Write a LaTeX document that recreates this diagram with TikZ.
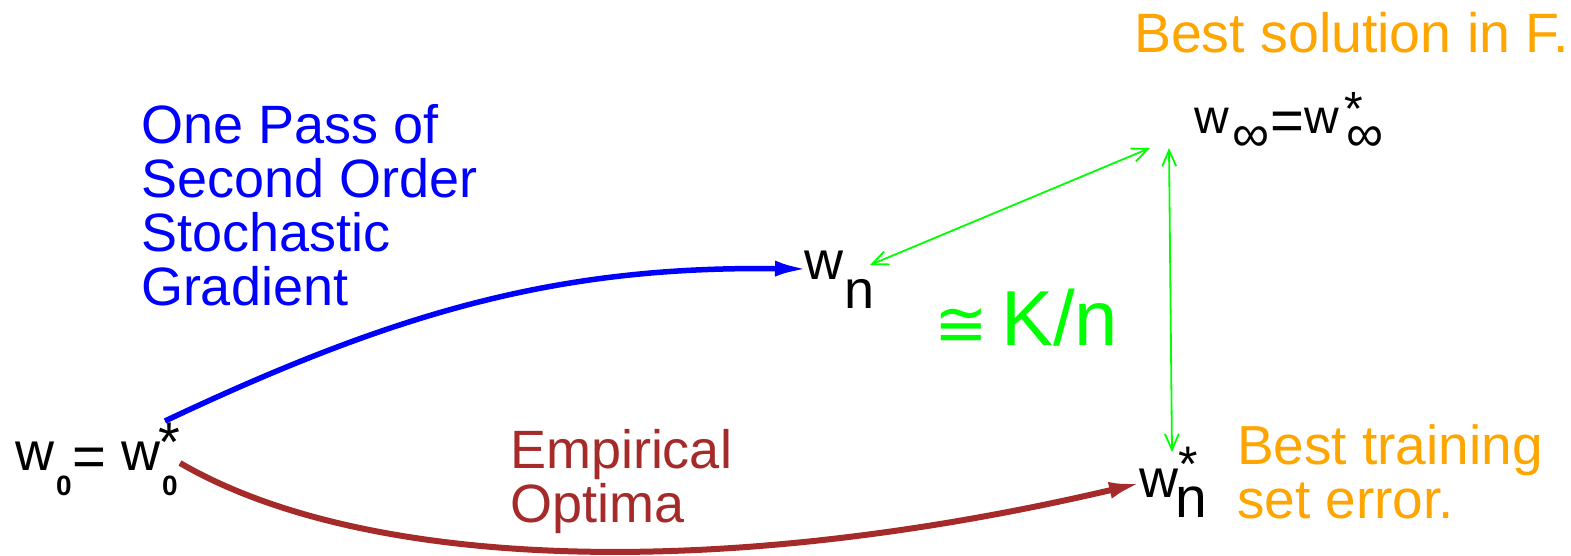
\documentclass[tikz,border=0pt]{standalone}
\usepackage{fontspec}
\setmainfont{Liberation Sans}
\newfontfamily\dv{DejaVu Sans}
\usetikzlibrary{arrows.meta}
\definecolor{cblue}{HTML}{0000FF}
\definecolor{cred}{HTML}{A52A2A}
\definecolor{corange}{HTML}{FFA500}
\definecolor{cgreen}{HTML}{00FF00}
\newcommand{\fs}[1]{\fontsize{#1}{#1}\selectfont}
\begin{document}
\begin{tikzpicture}[x=1pt,y=-1pt,
  lbl/.style={anchor=base west,inner sep=0pt,outer sep=0pt},
  garrow/.style={draw=cgreen,line width=1.8pt,{Straight Barb[length=16pt,width=14pt,line width=1.8pt]}-{Straight Barb[length=16pt,width=14pt,line width=1.8pt]}}]
\useasboundingbox (0,0) rectangle (1571,555);
% texts
\node[lbl,text=corange,font=\fs{55.5}] (tbest) at (1134,52) {Best solution in F.};
\node[lbl,text=cblue,font=\fs{54}] (t1) at (141,143) {One Pass of};
\node[lbl,text=cblue,font=\fs{54}] (t2) at (141,197) {Second Order};
\node[lbl,text=cblue,font=\fs{54}] (t3) at (141,251) {Stochastic};
\node[lbl,text=cblue,font=\fs{54}] (t4) at (141,305) {Gradient};
\node[lbl,text=cred,font=\fs{54}] (e1) at (510,468) {Empirical};
\node[lbl,text=cred,font=\fs{54}] (e2) at (510,522) {Optima};
\node[lbl,text=corange,font=\fs{55}] (b1) at (1237,464) {Best training};
\node[lbl,text=corange,font=\fs{55}] (b2) at (1237,518) {set error.};
% w0 = w0*
\node[lbl,font=\fs{54}] (w0a) at (16,470) {w};
\node[lbl,font=\bfseries\fs{28}] (w0s) at (56,495) {0};
\node[lbl,font=\fs{58}] (w0e) at (72,476) {=};
\node[lbl,font=\fs{54}] (w0b) at (121,470) {w};
\node[lbl,font=\fs{56}] (w0st) at (158,461) {*};
\node[lbl,font=\bfseries\fs{28}] (w0t) at (162,495) {0};
% w_n
\node[lbl,font=\fs{54}] (wn) at (804,279) {w};
\node[lbl,font=\fs{54}] (wnn) at (844,308) {n};
% w_inf = w*_inf
\node[lbl,font=\fs{48}] (wi) at (1194,133) {w};
\node[lbl,font=\fs{52}] (wii) at (1232,151) {∞};
\node[lbl,font=\fs{58}] (wie) at (1270,140) {=};
\node[lbl,font=\fs{48}] (wj) at (1304,133) {w};
\node[lbl,font=\fs{48}] (wjs) at (1344,125) {*};
\node[lbl,font=\fs{52}] (wjj) at (1346,151) {∞};
% w_n^*
\node[lbl,font=\fs{54}] (ws) at (1139,497) {w};
\node[lbl,font=\fs{50}] (wss) at (1178,481) {*};
\node[lbl,font=\fs{57}] (wsn) at (1175,517) {n};
% K/n
\node[lbl,text=cgreen,font=\dv\fs{64}] (cong) at (934,346) {≅};
\node[lbl,text=cgreen,font=\fs{78}] (kn) at (1001,345) {K/n};
% coordinates
\coordinate (bs) at (165,421);
\coordinate (be) at (808,269);
\coordinate (rs) at (180,463);
\coordinate (re) at (1141,483);
\coordinate (g1) at (870,265);
\coordinate (g2) at (1150,148);
\coordinate (g3) at (1169,148);
\coordinate (g4) at (1172,452);
% arrows
\draw[cblue,line width=5.5pt,-{Latex[length=33pt,width=16pt]}] (bs) .. controls (400,310) and (560,266) .. (be);
\draw[cred,line width=6pt,-{Latex[length=32pt,width=17pt]}] (rs) .. controls (360,568) and (710,584) .. (re);
\draw[garrow] (g1) -- (g2);
\draw[garrow] (g3) -- (g4);
\end{tikzpicture}
\end{document}
